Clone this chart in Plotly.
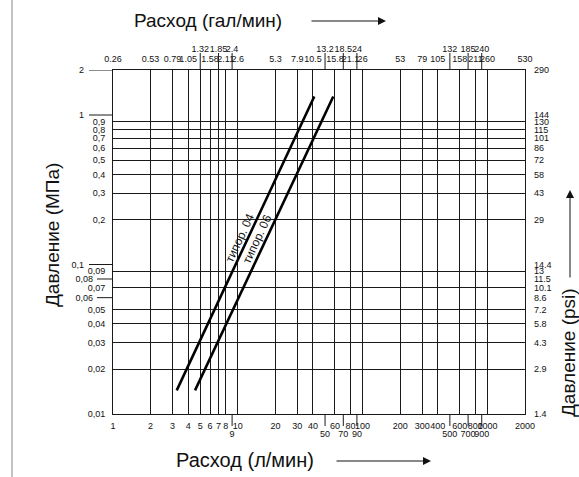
import math
import plotly.graph_objects as go

# ---------------- data ----------------
flow_lpm = [1, 2, 3, 4, 5, 6, 7, 8, 9, 10, 20, 30, 40, 50, 60, 70, 80, 90,
            100, 200, 300, 400, 500, 600, 700, 800, 900, 1000, 2000]
flow_lpm_labels = ["1", "2", "3", "4", "5", "6", "7", "8", "9", "10", "20", "30",
                   "40", "50", "60", "70", "80", "90", "100", "200", "300", "400",
                   "500", "600", "700", "800", "900", "1000", "2000"]
flow_gpm_labels = ["0.26", "0.53", "0.79", "1.05", "1.32", "1.58", "1.85", "2.11",
                   "2.4", "2.6", "5.3", "7.9", "10.5", "13.2", "15.8", "18.5",
                   "21.1", "24", "26", "53", "79", "105", "132", "158", "185",
                   "211", "240", "260", "530"]
# flows whose labels are staggered (lowered at bottom / raised at top)
bottom_lowered = [9, 50, 70, 90, 500, 700, 900]
top_raised = [5, 7, 9, 50, 70, 90, 500, 700, 900]

pressure_mpa = [2, 1, 0.9, 0.8, 0.7, 0.6, 0.5, 0.4, 0.3, 0.2,
                0.1, 0.09, 0.08, 0.07, 0.06, 0.05, 0.04, 0.03, 0.02, 0.01]
pressure_mpa_labels = ["2", "1", "0,9", "0,8", "0,7", "0,6", "0,5", "0,4", "0,3", "0,2",
                       "0,1", "0,09", "0,08", "0,07", "0,06", "0,05", "0,04", "0,03",
                       "0,02", "0,01"]
pressure_psi_labels = ["290", "144", "130", "115", "101", "86", "72", "58", "43", "29",
                       "14.4", "13", "11.5", "10.1", "8.6", "7.2", "5.8", "4.3", "2.9", "1.4"]
# MPa ticks with long tick lines on the left
left_long_a = [2, 1, 0.1]
left_long_b = [0.08, 0.06]

# curves (flow l/min, pressure MPa)
typ04_flow = [3.24, 41.0]
typ04_p = [0.0144, 1.33]
typ06_flow = [4.54, 58.2]
typ06_p = [0.0144, 1.33]

# ---------------- figure ----------------
W, H = 579, 477
L, T = 113, 70
R = W - 525
B = H - 414
pw, ph = W - L - R, H - T - B

FONT = "Liberation Sans, Arial, sans-serif"
xr = [0, math.log10(2000)]
yr = [-2, math.log10(2)]


def subset(vals, labels, keep):
    v, t = [], []
    for a, b in zip(vals, labels):
        if keep(a):
            v.append(a)
            t.append(b)
    return v, t


fig = go.Figure()
fig.add_trace(go.Scatter(x=typ04_flow, y=typ04_p, mode="lines",
                         line=dict(color="black", width=2.6), hoverinfo="skip",
                         showlegend=False))
fig.add_trace(go.Scatter(x=typ06_flow, y=typ06_p, mode="lines",
                         line=dict(color="black", width=2.6), hoverinfo="skip",
                         showlegend=False))
# invisible traces so that the overlay axes are drawn
for xa, ya in [("x2", "y"), ("x3", "y"), ("x4", "y"), ("x", "y2"), ("x", "y3"), ("x", "y4")]:
    fig.add_trace(go.Scatter(x=typ04_flow, y=typ04_p, xaxis=xa, yaxis=ya, mode="lines",
                             opacity=0, hoverinfo="skip", showlegend=False))

tickfont = dict(family=FONT, size=9, color="#111")

bx_v, bx_t = subset(flow_lpm, flow_lpm_labels, lambda a: a not in bottom_lowered)
bl_v, bl_t = subset(flow_lpm, flow_lpm_labels, lambda a: a in bottom_lowered)
tx_v, tx_t = subset(flow_lpm, flow_gpm_labels, lambda a: a not in top_raised)
tr_v, tr_t = subset(flow_lpm, flow_gpm_labels, lambda a: a in top_raised)

ly_v, ly_t = subset(pressure_mpa, pressure_mpa_labels,
                    lambda a: a not in left_long_a and a not in left_long_b)
la_v, la_t = subset(pressure_mpa, pressure_mpa_labels, lambda a: a in left_long_a)
lb_v, lb_t = subset(pressure_mpa, pressure_mpa_labels, lambda a: a in left_long_b)

common_x = dict(type="log", range=xr, tickmode="array", ticks="", tickfont=tickfont,
                showgrid=False, zeroline=False, tickangle=0, fixedrange=True)
common_y = dict(type="log", range=yr, tickmode="array", ticks="", tickfont=tickfont,
                showgrid=False, zeroline=False, fixedrange=True)

fig.update_layout(
    width=W, height=H,
    margin=dict(l=L, r=R, t=T, b=B, pad=0),
    paper_bgcolor="white", plot_bgcolor="white",
    showlegend=False,
    xaxis=dict(common_x, tickvals=bx_v, ticktext=bx_t, side="bottom",
               showgrid=True, gridcolor="#1a1a1a", gridwidth=1,
               showline=True, linecolor="#1a1a1a", linewidth=1, mirror=True,
               ticklabelstandoff=3),
    xaxis3=dict(common_x, tickvals=bl_v, ticktext=bl_t, side="bottom",
                overlaying="x", anchor="y", ticklabelstandoff=13),
    xaxis2=dict(common_x, tickvals=tx_v, ticktext=tx_t, side="top",
                overlaying="x", anchor="y", ticklabelstandoff=5),
    xaxis4=dict(common_x, tickvals=tr_v, ticktext=tr_t, side="top",
                overlaying="x", anchor="y", ticklabelstandoff=15),
    yaxis=dict(common_y, tickvals=ly_v, ticktext=ly_t, side="left",
               showgrid=True, gridcolor="#1a1a1a", gridwidth=1,
               showline=True, linecolor="#1a1a1a", linewidth=1, mirror=True,
               ticklabelstandoff=5),
    yaxis3=dict(common_y, tickvals=la_v, ticktext=la_t, side="left",
                overlaying="y", anchor="x", ticklabelstandoff=28),
    yaxis4=dict(common_y, tickvals=lb_v, ticktext=lb_t, side="left",
                overlaying="y", anchor="x", ticklabelstandoff=19),
    yaxis2=dict(common_y, tickvals=pressure_mpa, ticktext=pressure_psi_labels,
                side="right", overlaying="y", anchor="x", ticklabelstandoff=8),
)


def px_x(x):
    return (x - L) / pw


def px_y(y):
    return 1 - (y - T) / ph


shapes = []
# long left tick lines
for v in left_long_a:
    shapes.append(dict(type="line", xref="paper", yref="y", x0=-24 / pw, x1=0,
                       y0=v, y1=v, line=dict(color="#1a1a1a", width=1)))
for v in left_long_b:
    shapes.append(dict(type="line", xref="paper", yref="y", x0=-16 / pw, x1=0,
                       y0=v, y1=v, line=dict(color="#1a1a1a", width=1)))
# raised top tick lines / lowered bottom tick lines
for v in top_raised:
    shapes.append(dict(type="line", xref="x", yref="paper", x0=v, x1=v,
                       y0=1, y1=1 + 17 / ph, line=dict(color="#1a1a1a", width=1)))
for v in bottom_lowered:
    shapes.append(dict(type="line", xref="x", yref="paper", x0=v, x1=v,
                       y0=0, y1=-12 / ph, line=dict(color="#1a1a1a", width=1)))
# left border line
shapes.append(dict(type="line", xref="paper", yref="paper",
                   x0=px_x(12), x1=px_x(12), y0=px_y(477), y1=px_y(0),
                   line=dict(color="#888", width=1)))
fig.update_layout(shapes=shapes)

title_font = dict(family=FONT, size=19, color="#111")
ann = []
ann.append(dict(text="Расход (гал/мин)", xref="paper", yref="paper",
                x=px_x(208), y=px_y(21), showarrow=False, font=title_font,
                xanchor="center", yanchor="middle"))
ann.append(dict(text="", xref="paper", yref="paper", x=px_x(386), y=px_y(21),
                ax=-76, ay=0, showarrow=True, arrowhead=2, arrowsize=1.6,
                arrowwidth=1, arrowcolor="#111"))
ann.append(dict(text="Расход (л/мин)", xref="paper", yref="paper",
                x=px_x(245), y=px_y(460), showarrow=False,
                font=dict(title_font, size=20),
                xanchor="center", yanchor="middle"))
ann.append(dict(text="", xref="paper", yref="paper", x=px_x(431), y=px_y(461),
                ax=-96, ay=0, showarrow=True, arrowhead=2, arrowsize=1.6,
                arrowwidth=1, arrowcolor="#111"))
ann.append(dict(text="Давление (МПа)", xref="paper", yref="paper",
                x=px_x(52), y=px_y(235), showarrow=False, font=title_font,
                textangle=-90, xanchor="center", yanchor="middle"))
ann.append(dict(text="Давление (psi)", xref="paper", yref="paper",
                x=px_x(568), y=px_y(353), showarrow=False, font=title_font,
                textangle=-90, xanchor="center", yanchor="middle"))
ann.append(dict(text="", xref="paper", yref="paper", x=px_x(570), y=px_y(190),
                ax=0, ay=89, showarrow=True, arrowhead=2, arrowsize=1.6,
                arrowwidth=1, arrowcolor="#111"))
lab_font = dict(family=FONT, size=12, color="#111")
ann.append(dict(text="типор. 04", xref="x", yref="y", x=math.log10(10.4),
                y=math.log10(0.150), showarrow=False, font=lab_font, textangle=-65))
ann.append(dict(text="типор. 06", xref="x", yref="y", x=math.log10(14.3),
                y=math.log10(0.148), showarrow=False, font=lab_font, textangle=-65))
fig.update_layout(annotations=ann)

fig.write_html(
    "out.html",
    config={"displayModeBar": False},
    post_script="document.body.style.margin='0';document.body.style.overflow='hidden';",
)
